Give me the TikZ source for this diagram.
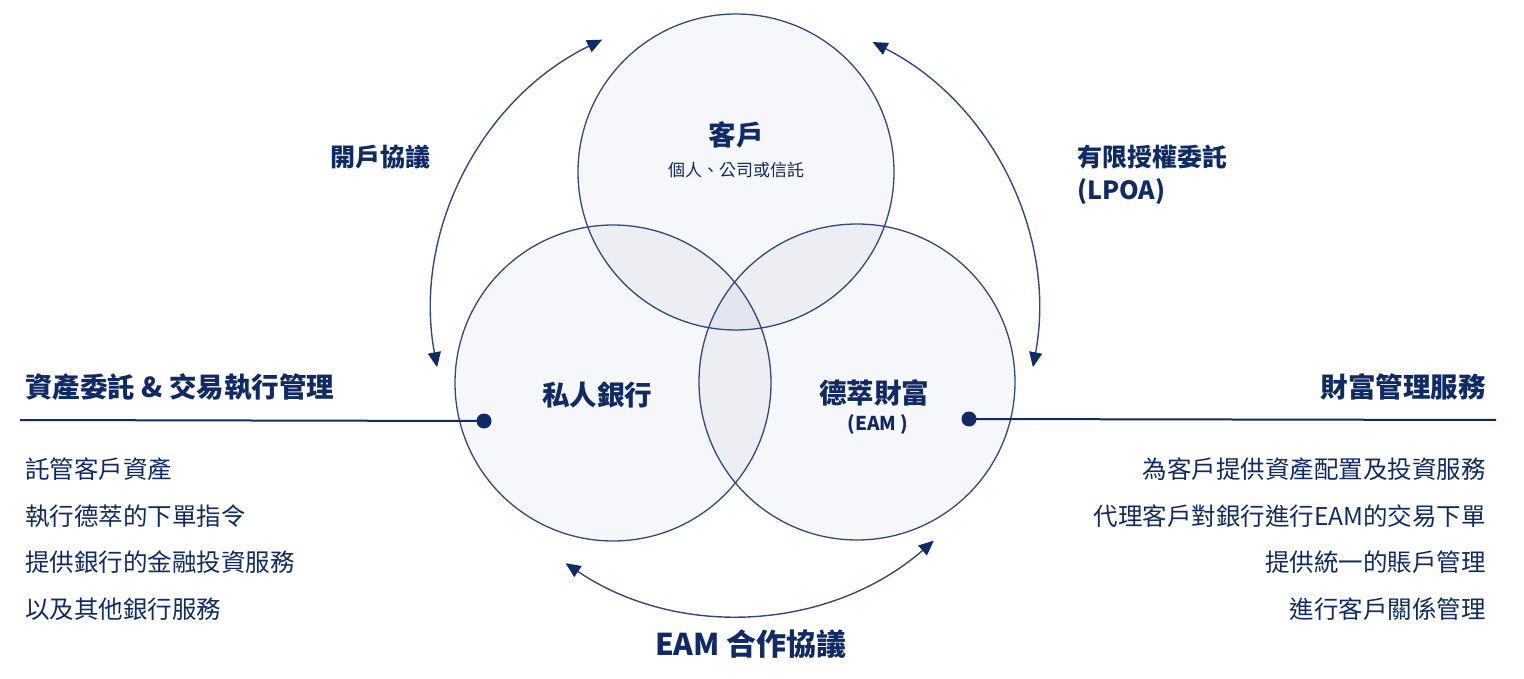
\documentclass[tikz,border=0pt]{standalone}
\usepackage{fontspec}
\setmainfont{Noto Sans CJK TC}
\usetikzlibrary{arrows.meta,calc}
\definecolor{blunotte}{RGB}{16,42,102}
\definecolor{bordo}{RGB}{50,72,128}
\definecolor{fondo}{RGB}{246,247,250}
\definecolor{doppio}{RGB}{236,238,243}
\definecolor{triplo}{RGB}{227,230,239}
\tikzstyle{diagramma}=[
    testo/.style={text=blunotte,inner sep=0pt},
    titolo/.style={testo,font={\bfseries\fontsize{27.5}{30}\selectfont}},
    etichetta/.style={testo,font={\bfseries\fontsize{25}{33}\selectfont},align=left},
    sotto/.style={testo,font={\fontsize{17}{20}\selectfont}},
    voce/.style={testo,font={\fontsize{24.5}{28}\selectfont}},
]
\tikzstyle{venn}=[
    diagramma,
    cerchio/.style={circle,draw=bordo,line width=1.3pt,minimum size=316pt,inner sep=0pt},
    punto/.style={circle,fill=blunotte,minimum size=15pt,inner sep=0pt},
    linea/.style={blunotte,line width=2pt},
    freccia/.style={bordo,line width=1.4pt,{Triangle[length=15pt,width=13pt,color=blunotte]}-{Triangle[length=15pt,width=13pt,color=blunotte]}},
]
\newcommand{\elenco}[3][]{
    \begin{scope}[#1]
    \path
        \foreach \t [count=\i] in {#3}
            {
                ++(0,-46.5) node[voce] (#2\i) {\t}
            }
    ;
    \end{scope}
}

\begin{document}
\begin{tikzpicture}[venn,x=1pt,y=1pt]
    \useasboundingbox (0,0) rectangle (1524,-679);

    \coordinate (ct) at (736,-172);
    \coordinate (cl) at (613,-383);
    \coordinate (cr) at (857,-382);
    \coordinate (mid) at (735,-312);

    % riempimenti
    \foreach \c in {ct,cl,cr}
        \fill[fondo] (\c) circle (158);
    \begin{scope}
        \clip (ct) circle (158);
        \fill[doppio] (cl) circle (158);
        \fill[doppio] (cr) circle (158);
    \end{scope}
    \begin{scope}
        \clip (cl) circle (158);
        \fill[doppio] (cr) circle (158);
    \end{scope}
    \begin{scope}
        \clip (ct) circle (158);
        \clip (cl) circle (158);
        \fill[triplo] (cr) circle (158);
    \end{scope}

    \node[cerchio] (cliente) at (ct) {};
    \node[cerchio] (banca) at (cl) {};
    \node[cerchio] (eam) at (cr) {};

    \node[titolo] (clientetit) at (736,-135) {客戶};
    \node[sotto] (clientesub) at (736,-170) {個人、公司或信託};
    \node[titolo] (bancatit) at (597,-395) {私人銀行};
    \node[titolo] (eamtit) at (874,-393) {德萃財富};
    \node[sotto,font={\bfseries\fontsize{19}{22}\selectfont}] (eamsub) at (878,-424) {(EAM )};

    % frecce
    \coordinate (tl1) at ($(mid)+(116:303)$);
    \coordinate (tr1) at ($(mid)+(63:303)$);
    \coordinate (bo1) at ($(mid)+(236:303)$);
    \draw[freccia] (tl1) arc[start angle=116,end angle=190.5,radius=303];
    \draw[freccia] (tr1) arc[start angle=63,end angle=-10.5,radius=303];
    \draw[freccia] (bo1) arc[start angle=236,end angle=311,radius=303];

    \node[etichetta] (apertura) at (380,-157) {開戶協議};
    \node[etichetta,anchor=north west] (lpoa) at (1077,-145) {有限授權委託\\(LPOA)};
    \node[etichetta,font={\bfseries\fontsize{30}{33}\selectfont}] (accordo) at (751,-644) {EAM 合作協議};

    % linee laterali
    \node[punto] (pbpunto) at (484,-421) {};
    \node[punto] (eampunto) at (969,-419) {};
    \coordinate (lsx) at (20,-420);
    \coordinate (ldx) at (1496,-420);
    \draw[linea] (lsx) -- (pbpunto.center);
    \draw[linea] (eampunto.center) -- (ldx);

    \node[titolo,anchor=west] (sxtit) at (25,-387) {資產委託 \& 交易執行管理};
    \node[titolo,anchor=east] (dxtit) at (1486,-387) {財富管理服務};

    \elenco[shift={(25,-423)},voce/.append style={anchor=west}]{sx}{託管客戶資產,執行德萃的下單指令,提供銀行的金融投資服務,以及其他銀行服務}
    \elenco[shift={(1486,-423)},voce/.append style={anchor=east}]{dx}{為客戶提供資產配置及投資服務,代理客戶對銀行進行EAM的交易下單,提供統一的賬戶管理,進行客戶關係管理}

\end{tikzpicture}
\end{document}
